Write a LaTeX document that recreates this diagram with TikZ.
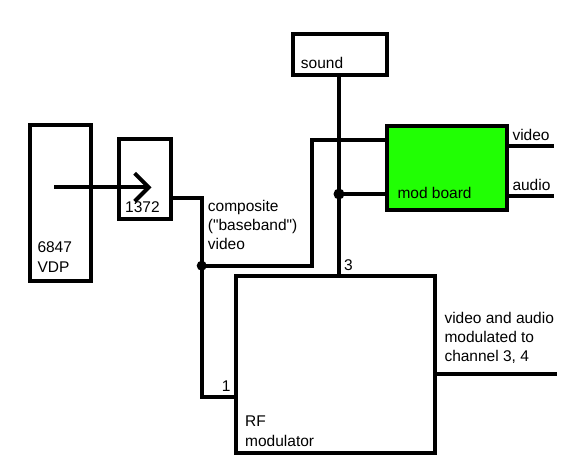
\documentclass[tikz,border=0pt]{standalone}
\usepackage{fontspec}
\setmainfont{Liberation Sans}
\usetikzlibrary{arrows.meta}
\definecolor{modgreen}{RGB}{33,255,4}
\tikzset{
  blk/.style={draw, line width=4pt},
  wire/.style={draw, line width=4pt},
  lbl/.style={anchor=base west, inner sep=0pt, font=\fontsize{15.5}{19}\selectfont, align=left},
  lblwide/.style={lbl, font=\fontsize{15.5}{20}\selectfont},
  dot/.style={circle, fill=black, inner sep=0pt, minimum size=11pt},
}
\begin{document}
\begin{tikzpicture}[x=1pt,y=1pt]
\useasboundingbox (0,0) rectangle (561,472);
% boxes
\draw[blk] (30,347.3) rectangle (90.7,190.7);
\coordinate (vdpin) at (54,284.7);
\draw[blk] (119.3,333.3) rectangle (171.3,253.3);
\coordinate (vdptip) at (151.5,284.7);
\draw[blk] (292.7,438) rectangle (387.3,397.3);
\draw[blk, fill=modgreen] (387.3,346) rectangle (507.3,262.3);
\draw[blk] (236.3,195.7) rectangle (434.7,19);
% named points
\coordinate (ctout) at (171.3,273.7);
\coordinate (ctcorner) at (201.7,273.7);
\node[dot, minimum size=10pt] (j1) at (201.7,206.3) {};
\coordinate (rfin1) at (236.3,75.3);
\coordinate (soundout) at (339,397.3);
\coordinate (rfin3) at (339,195.7);
\node[dot] (j2) at (339,278) {};
\coordinate (modin1) at (387.3,332);
\coordinate (modin2) at (387.3,278);
\coordinate (vidout) at (507.3,326.3);
\coordinate (vidend) at (554,326.3);
\coordinate (audout) at (507.3,276.3);
\coordinate (audend) at (554,276.3);
\coordinate (rfout) at (434.7,97.7);
\coordinate (rfend) at (556.7,97.7);
% arrow
\draw[line width=4pt, -{Straight Barb[length=14pt,width=28pt]}] (vdpin) -- (vdptip);
% wires
\draw[wire] (ctout) -- (ctcorner) -- (j1.center) |- (rfin1);
\draw[wire] (j1.center) -- (312,206.3) |- (modin1);
\draw[wire] (soundout) -- (rfin3);
\draw[wire] (j2.center) -- (modin2);
\draw[wire] (vidout) -- (vidend);
\draw[wire] (audout) -- (audend);
\draw[wire] (rfout) -- (rfend);
% labels (base anchor = last line baseline)
\node[lblwide] (t1) at (37.3,199.3) {6847\\VDP};
\node[lbl] (t2) at (125,259.3) {1372};
\node[lbl] (t3) at (207.7,223) {composite\\(\textquotedbl baseband\textquotedbl)\\video};
\node[lbl] (t4) at (300.7,403.7) {sound};
\node[lbl] (t5) at (397.3,273.7) {mod board};
\node[lbl] (t6) at (512.3,331.3) {video};
\node[lbl] (t7) at (512.3,281.3) {audio};
\node[lbl] (t8) at (344,201.3) {3};
\node[lbl, anchor=base east] (t9) at (230.7,80.3) {1};
\node[lbl] (t10) at (444.3,110.3) {video and audio\\modulated to\\channel 3, 4};
\node[lblwide] (t11) at (245,25.3) {RF\\modulator};
\end{tikzpicture}
\end{document}
